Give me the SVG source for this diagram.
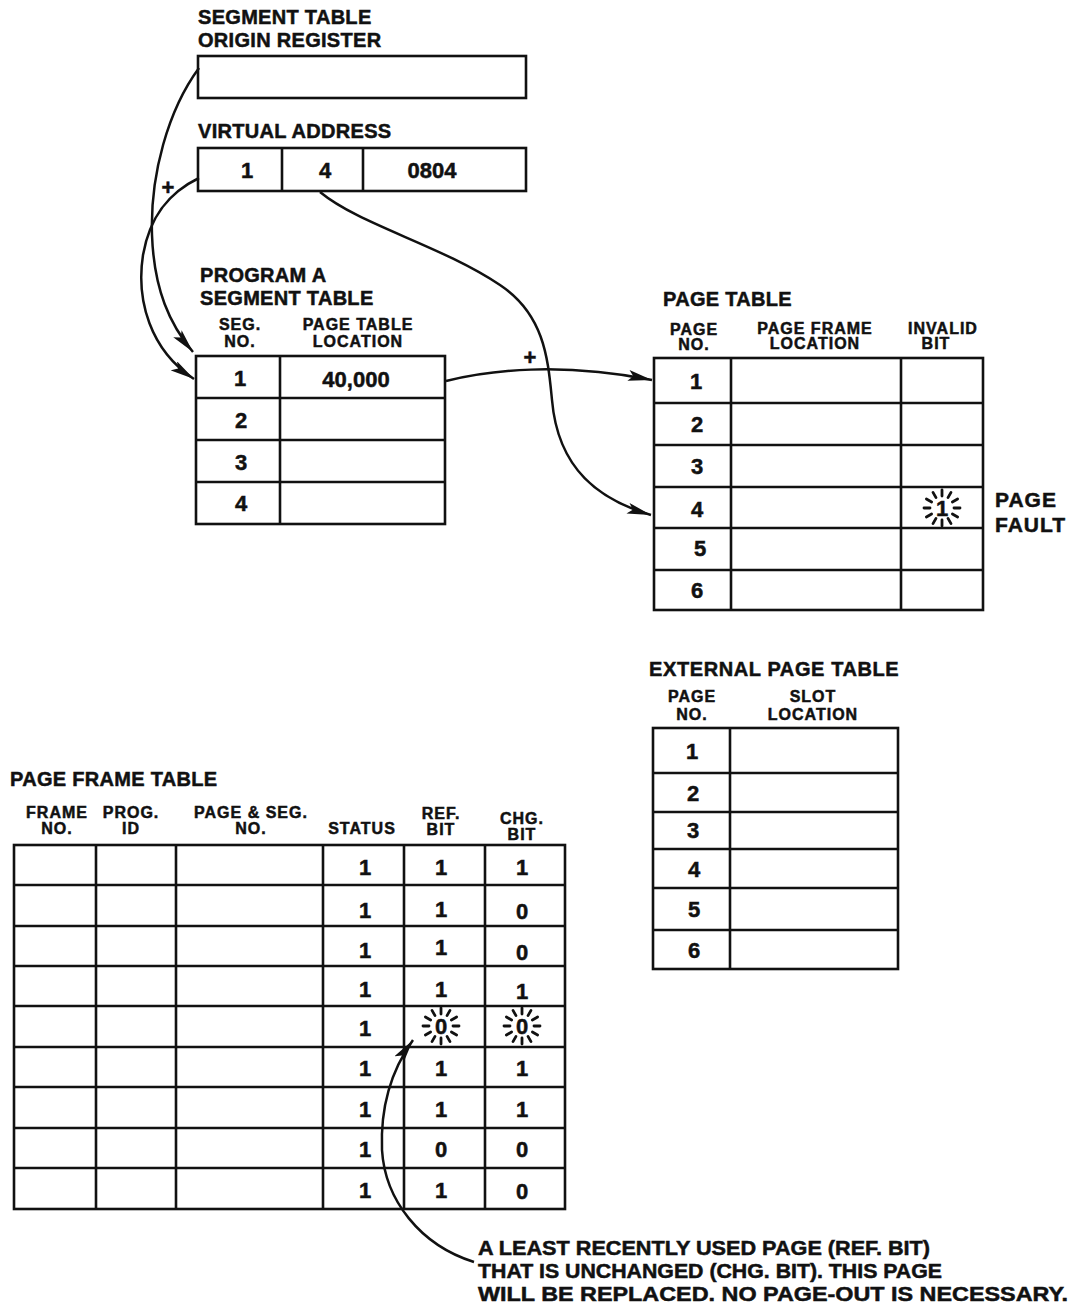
<svg xmlns="http://www.w3.org/2000/svg" width="1080" height="1306" viewBox="0 0 1080 1306">
<style>
text{font-family:"Liberation Sans",Arial,sans-serif;font-weight:bold;fill:#111;stroke:#111;stroke-width:0.5}
.title{font-size:20px;letter-spacing:0.3px}
.hdr{font-size:16px;letter-spacing:1px;text-anchor:middle}
.val{font-size:22px;text-anchor:middle}
.note{font-size:20px}
.box{fill:#fff;stroke:#111;stroke-width:2.6}
.ln{stroke:#111;stroke-width:2.6;fill:none}
.conn{stroke:#111;stroke-width:2.5;fill:none}
.plus{font-size:22px;text-anchor:middle}
.burst line{stroke:#111;stroke-width:2.8;stroke-linecap:round}
</style>
<defs>
<marker id="arr" markerUnits="userSpaceOnUse" markerWidth="26" markerHeight="12" refX="24" refY="5.5" orient="auto">
<path d="M0,0 L24,5.5 L0,11 L5,5.5 z" fill="#111"/>
</marker>
<g id="burst" class="burst">
<line x1="12" y1="0" x2="18" y2="0"/>
<line x1="10.4" y1="6" x2="15.6" y2="9"/>
<line x1="6" y1="10.4" x2="9" y2="15.6"/>
<line x1="0" y1="12" x2="0" y2="18"/>
<line x1="-6" y1="10.4" x2="-9" y2="15.6"/>
<line x1="-10.4" y1="6" x2="-15.6" y2="9"/>
<line x1="-12" y1="0" x2="-18" y2="0"/>
<line x1="-10.4" y1="-6" x2="-15.6" y2="-9"/>
<line x1="-6" y1="-10.4" x2="-9" y2="-15.6"/>
<line x1="0" y1="-12" x2="0" y2="-18"/>
<line x1="6" y1="-10.4" x2="9" y2="-15.6"/>
<line x1="10.4" y1="-6" x2="15.6" y2="-9"/>
</g>
</defs>
<rect width="1080" height="1306" fill="#fff"/>

<g id="origin-register">
<text class="title" x="198" y="24">SEGMENT TABLE</text>
<text class="title" x="198" y="47">ORIGIN REGISTER</text>
<rect class="box" x="198" y="56" width="328" height="42"/>
</g>

<g id="virtual-address">
<text class="title" x="198" y="138">VIRTUAL ADDRESS</text>
<rect class="box" x="198" y="148" width="328" height="43"/>
<line class="ln" x1="282" y1="148" x2="282" y2="191"/>
<line class="ln" x1="363" y1="148" x2="363" y2="191"/>
<text class="val" x="247" y="178">1</text>
<text class="val" x="325" y="178">4</text>
<text class="val" x="432" y="178">0804</text>
</g>

<g id="segment-table">
<text class="title" x="200" y="282">PROGRAM A</text>
<text class="title" x="200" y="305">SEGMENT TABLE</text>
<text class="hdr" x="240" y="330">SEG.</text>
<text class="hdr" x="240" y="347">NO.</text>
<text class="hdr" x="358" y="330">PAGE TABLE</text>
<text class="hdr" x="358" y="347">LOCATION</text>
<rect class="box" x="196" y="356" width="249" height="168"/>
<line class="ln" x1="280" y1="356" x2="280" y2="524"/>
<line class="ln" x1="196" y1="398" x2="445" y2="398"/>
<line class="ln" x1="196" y1="440" x2="445" y2="440"/>
<line class="ln" x1="196" y1="482" x2="445" y2="482"/>
<text class="val" x="240" y="386">1</text>
<text class="val" x="356" y="387">40,000</text>
<text class="val" x="241" y="428">2</text>
<text class="val" x="241" y="470">3</text>
<text class="val" x="241" y="511">4</text>
</g>

<g id="page-table">
<text class="title" x="663" y="306">PAGE TABLE</text>
<text class="hdr" x="694" y="335">PAGE</text>
<text class="hdr" x="694" y="350">NO.</text>
<text class="hdr" x="815" y="334">PAGE FRAME</text>
<text class="hdr" x="815" y="349">LOCATION</text>
<text class="hdr" x="943" y="334">INVALID</text>
<text class="hdr" x="936" y="349">BIT</text>
<rect class="box" x="654" y="358" width="329" height="252"/>
<line class="ln" x1="731" y1="358" x2="731" y2="610"/>
<line class="ln" x1="901" y1="358" x2="901" y2="610"/>
<line class="ln" x1="654" y1="403" x2="983" y2="403"/>
<line class="ln" x1="654" y1="445" x2="983" y2="445"/>
<line class="ln" x1="654" y1="487" x2="983" y2="487"/>
<line class="ln" x1="654" y1="528" x2="983" y2="528"/>
<line class="ln" x1="654" y1="570" x2="983" y2="570"/>
<text class="val" x="696" y="389">1</text>
<text class="val" x="697" y="432">2</text>
<text class="val" x="697" y="474">3</text>
<text class="val" x="697" y="517">4</text>
<text class="val" x="700" y="556">5</text>
<text class="val" x="697" y="598">6</text>
<text class="val" x="942" y="516">1</text>
<use href="#burst" x="942" y="508"/>
<text class="title" x="995" y="507" style="font-size:21px;letter-spacing:1px">PAGE</text>
<text class="title" x="995" y="532" style="font-size:21px;letter-spacing:1px">FAULT</text>
</g>

<g id="external-page-table">
<text class="title" x="649" y="676" style="letter-spacing:0.6px">EXTERNAL PAGE TABLE</text>
<text class="hdr" x="692" y="702">PAGE</text>
<text class="hdr" x="692" y="720">NO.</text>
<text class="hdr" x="813" y="702">SLOT</text>
<text class="hdr" x="813" y="720">LOCATION</text>
<rect class="box" x="653" y="728" width="245" height="241"/>
<line class="ln" x1="730" y1="728" x2="730" y2="969"/>
<line class="ln" x1="653" y1="773" x2="898" y2="773"/>
<line class="ln" x1="653" y1="812" x2="898" y2="812"/>
<line class="ln" x1="653" y1="849" x2="898" y2="849"/>
<line class="ln" x1="653" y1="888" x2="898" y2="888"/>
<line class="ln" x1="653" y1="930" x2="898" y2="930"/>
<text class="val" x="692" y="759">1</text>
<text class="val" x="693" y="801">2</text>
<text class="val" x="693" y="838">3</text>
<text class="val" x="694" y="877">4</text>
<text class="val" x="694" y="917">5</text>
<text class="val" x="694" y="958">6</text>
</g>

<g id="page-frame-table">
<text class="title" x="10" y="786">PAGE FRAME TABLE</text>
<text class="hdr" x="57" y="818">FRAME</text>
<text class="hdr" x="57" y="834">NO.</text>
<text class="hdr" x="131" y="818">PROG.</text>
<text class="hdr" x="131" y="834">ID</text>
<text class="hdr" x="251" y="818">PAGE &amp; SEG.</text>
<text class="hdr" x="251" y="834">NO.</text>
<text class="hdr" x="362" y="834">STATUS</text>
<text class="hdr" x="441" y="819">REF.</text>
<text class="hdr" x="441" y="835">BIT</text>
<text class="hdr" x="522" y="824">CHG.</text>
<text class="hdr" x="522" y="840">BIT</text>
<rect class="box" x="14" y="845" width="551" height="364"/>
<line class="ln" x1="96" y1="845" x2="96" y2="1209"/>
<line class="ln" x1="176" y1="845" x2="176" y2="1209"/>
<line class="ln" x1="323" y1="845" x2="323" y2="1209"/>
<line class="ln" x1="404" y1="845" x2="404" y2="1209"/>
<line class="ln" x1="485" y1="845" x2="485" y2="1209"/>
<line class="ln" x1="14" y1="885" x2="565" y2="885"/>
<line class="ln" x1="14" y1="926" x2="565" y2="926"/>
<line class="ln" x1="14" y1="966" x2="565" y2="966"/>
<line class="ln" x1="14" y1="1006" x2="565" y2="1006"/>
<line class="ln" x1="14" y1="1047" x2="565" y2="1047"/>
<line class="ln" x1="14" y1="1087" x2="565" y2="1087"/>
<line class="ln" x1="14" y1="1128" x2="565" y2="1128"/>
<line class="ln" x1="14" y1="1168" x2="565" y2="1168"/>
<g>
<text class="val" x="365" y="875">1</text><text class="val" x="441" y="875">1</text><text class="val" x="522" y="875">1</text>
<text class="val" x="365" y="918">1</text><text class="val" x="441" y="917">1</text><text class="val" x="522" y="919">0</text>
<text class="val" x="365" y="958">1</text><text class="val" x="441" y="955">1</text><text class="val" x="522" y="960">0</text>
<text class="val" x="365" y="997">1</text><text class="val" x="441" y="997">1</text><text class="val" x="522" y="999">1</text>
<text class="val" x="365" y="1036">1</text><text class="val" x="441" y="1034">0</text><text class="val" x="522" y="1034">0</text>
<text class="val" x="365" y="1076">1</text><text class="val" x="441" y="1076">1</text><text class="val" x="522" y="1076">1</text>
<text class="val" x="365" y="1117">1</text><text class="val" x="441" y="1117">1</text><text class="val" x="522" y="1117">1</text>
<text class="val" x="365" y="1157">1</text><text class="val" x="441" y="1157">0</text><text class="val" x="522" y="1157">0</text>
<text class="val" x="365" y="1198">1</text><text class="val" x="441" y="1198">1</text><text class="val" x="522" y="1199">0</text>
</g>
<use href="#burst" x="441" y="1026"/>
<use href="#burst" x="522" y="1026"/>
</g>

<g id="note">
<text class="note" x="478" y="1255" textLength="452" lengthAdjust="spacingAndGlyphs">A LEAST RECENTLY USED PAGE (REF. BIT)</text>
<text class="note" x="478" y="1278" textLength="464" lengthAdjust="spacingAndGlyphs">THAT IS UNCHANGED (CHG. BIT).  THIS PAGE</text>
<text class="note" x="478" y="1301" textLength="590" lengthAdjust="spacingAndGlyphs">WILL BE REPLACED.  NO PAGE-OUT IS NECESSARY.</text>
</g>

<g id="connectors">
<path class="conn" marker-end="url(#arr)" d="M199 68 C168 110,150 175,152 235 C154 290,170 325,193 352"/>
<path class="conn" marker-end="url(#arr)" d="M199 178 C170 192,150 215,143 255 C136 300,150 350,194 379"/>
<path class="conn" marker-end="url(#arr)" d="M446 381 C490 370,560 362,652 380"/>
<path class="conn" marker-end="url(#arr)" d="M320 192 C360 225,440 245,500 285 C545 315,548 360,552 400 C558 470,600 500,651 515"/>
<path class="conn" marker-end="url(#arr)" d="M474 1262 C420 1245,385 1200,382 1150 C380 1100,395 1065,413 1040"/>
<text class="plus" x="168" y="195">+</text>
<text class="plus" x="530" y="365">+</text>
</g>
</svg>
